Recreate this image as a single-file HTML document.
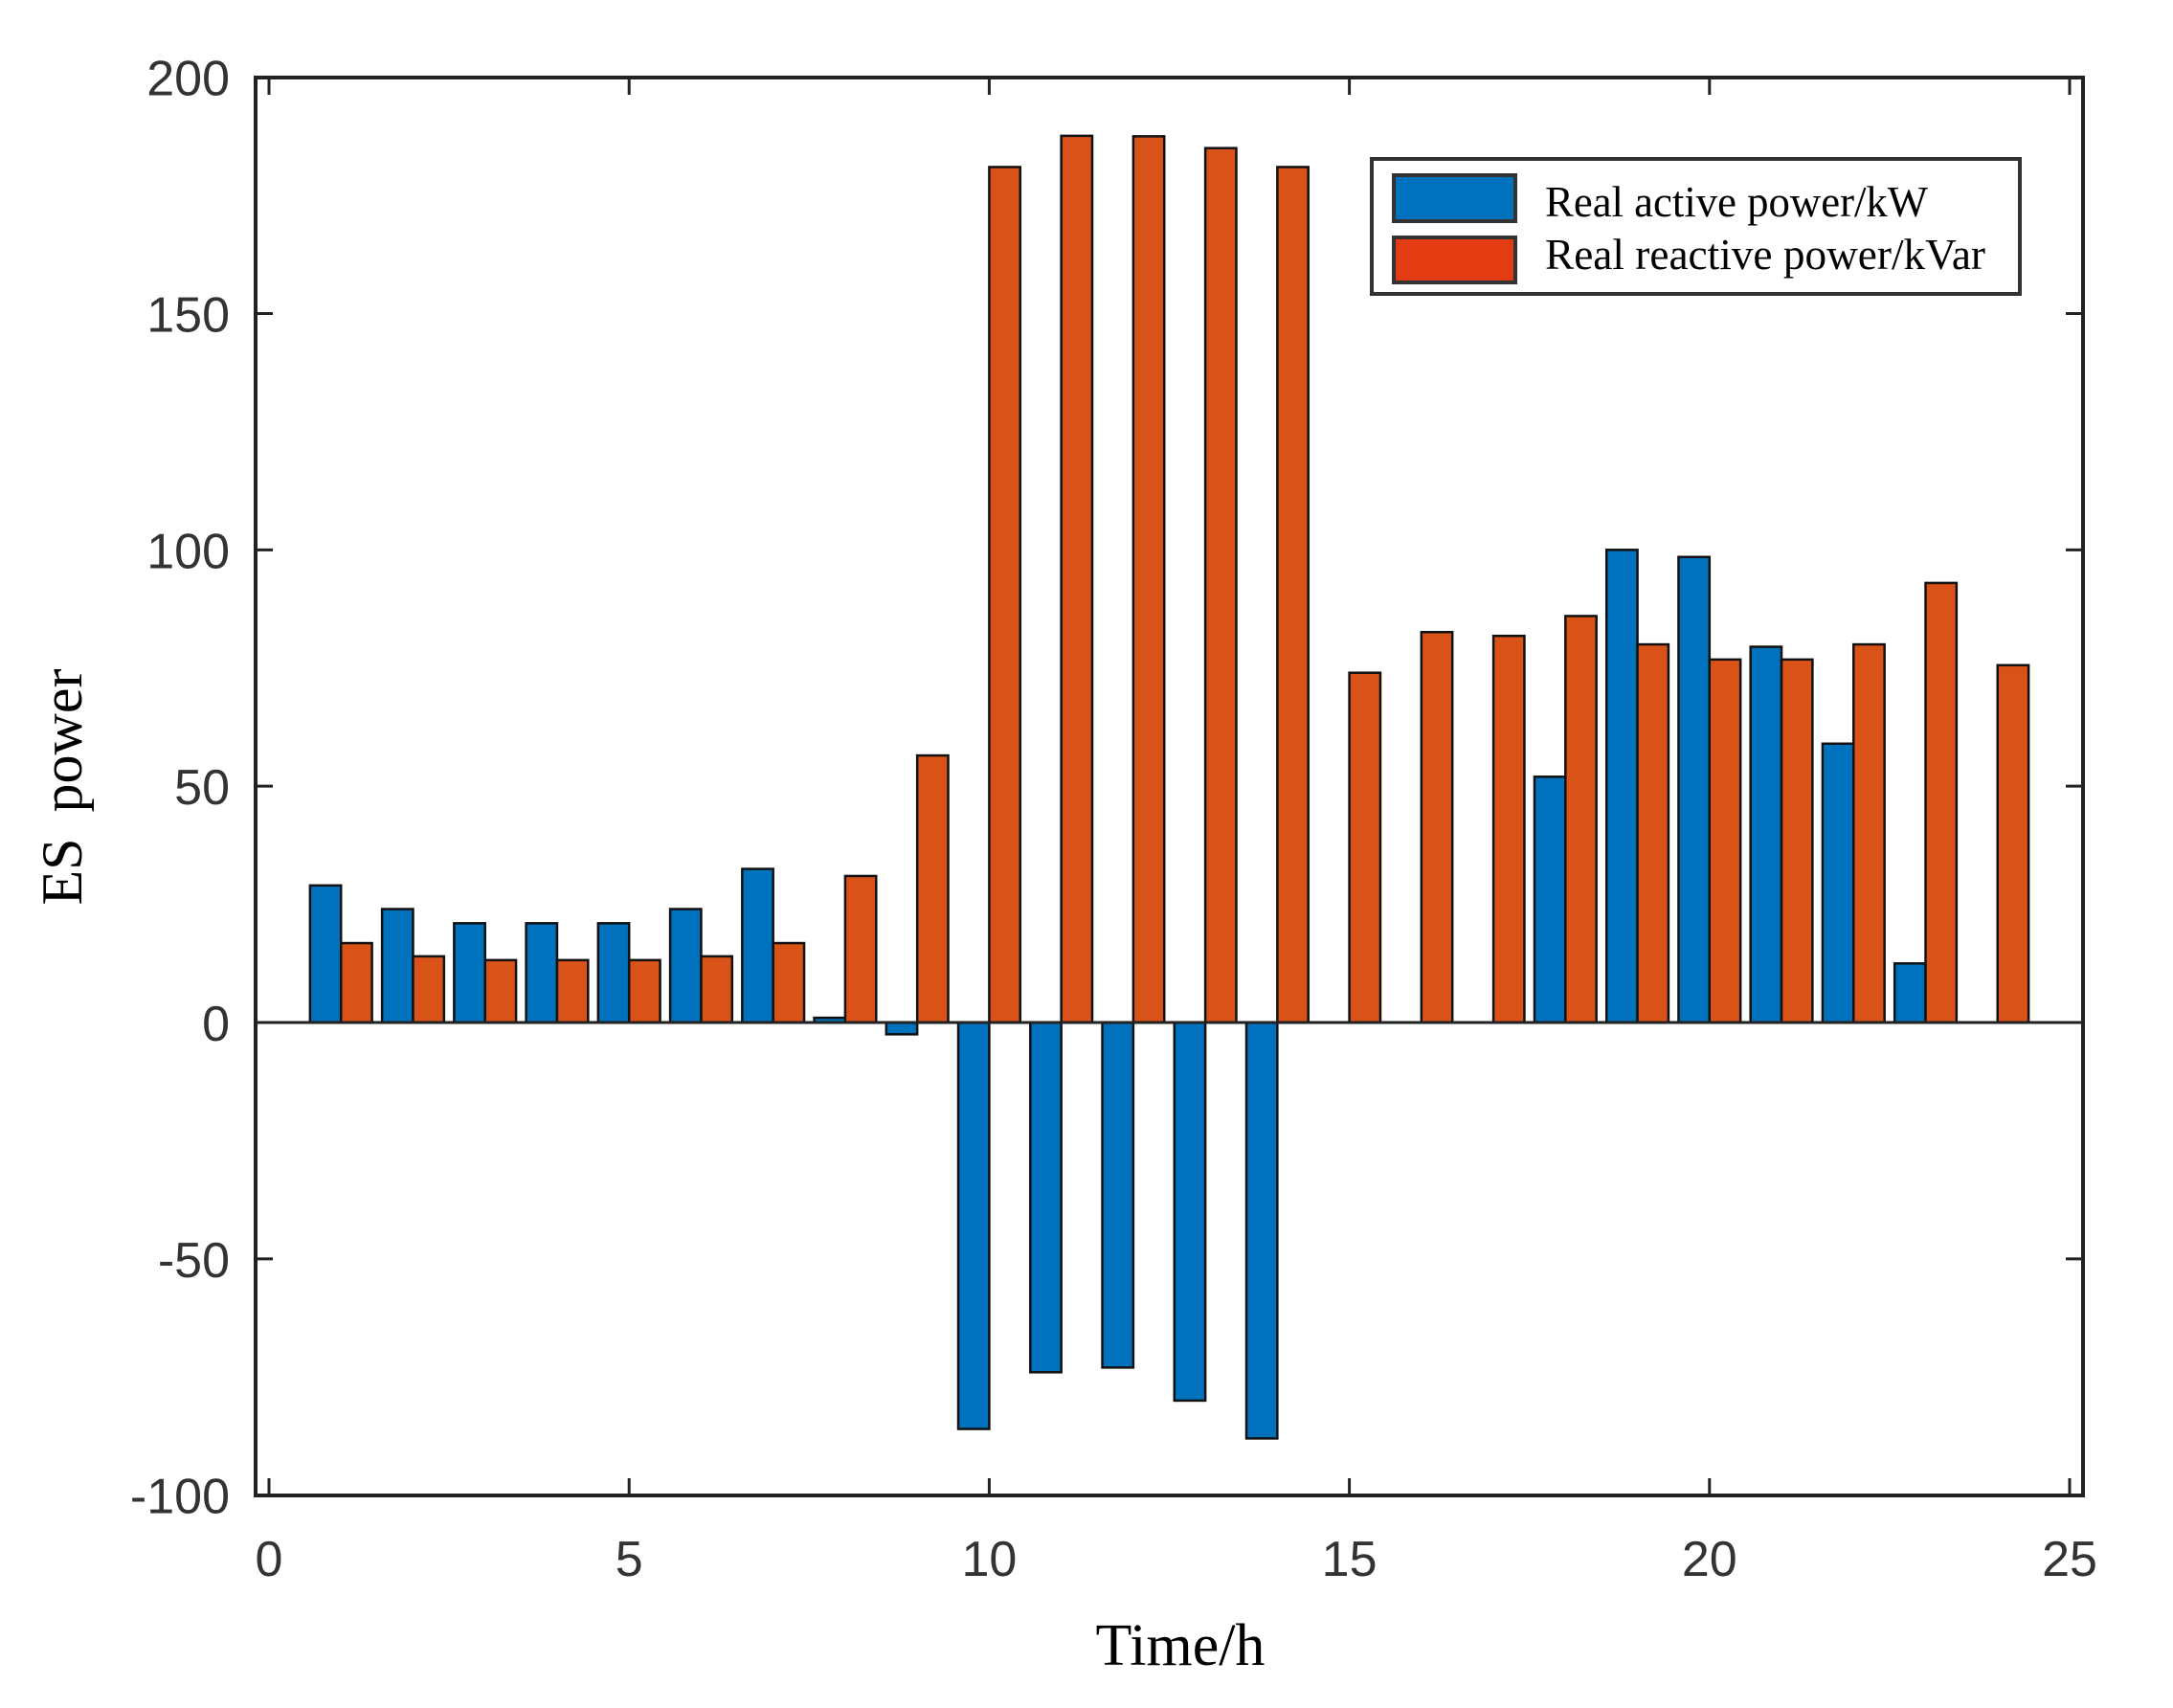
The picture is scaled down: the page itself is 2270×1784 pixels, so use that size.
<!DOCTYPE html>
<html><head><meta charset="utf-8"><style>
html,body{margin:0;padding:0;background:#fff;}
svg{display:block;}
</style></head><body>
<svg id="chart" width="2270" height="1784" viewBox="0 0 2270 1784" xmlns="http://www.w3.org/2000/svg">
<rect x="0" y="0" width="2270" height="1784" fill="#fff"/>
<g id="bars"></g>
<g id="axes"></g>
<text x="1233" y="1739" font-family="Liberation Serif, serif" font-size="62" text-anchor="middle" fill="#000">Time/h</text>
<text transform="translate(85,822) rotate(-90)" font-family="Liberation Serif, serif" font-size="60" text-anchor="middle" fill="#000" word-spacing="12">ES power</text>
<g>
<rect x="1433" y="166" width="677" height="141" fill="#fff" stroke="#333" stroke-width="4"/>
<rect x="1456" y="183" width="127" height="48" fill="#0072BD" stroke="#333" stroke-width="4"/>
<rect x="1456" y="248" width="127" height="47" fill="#E43C12" stroke="#333" stroke-width="4"/>
<text x="1614" y="226" font-family="Liberation Serif, serif" font-size="46" textLength="400" lengthAdjust="spacingAndGlyphs" fill="#000">Real active power/kW</text>
<text x="1614" y="281" font-family="Liberation Serif, serif" font-size="46" textLength="460" lengthAdjust="spacingAndGlyphs" fill="#000">Real reactive power/kVar</text>
</g>
</svg>
<script>
const hours = [1,2,3,4,5,6,7,8,9,10,11,12,13,14,15,16,17,18,19,20,21,22,23,24];
const activePower = [29,24,21,21,21,24,32.5,1,-2.5,-86,-74,-73,-80,-88,0,0,0,52,100,98.5,79.5,59,12.5,0];
const reactivePower = [16.8,14,13.2,13.2,13.2,14,16.8,31,56.5,181,187.6,187.5,185,181,74,82.6,81.8,86,80,76.8,76.8,80,93,75.6];
const xTicks = [0,5,10,15,20,25];
const yTicks = [-100,-50,0,50,100,150,200];

const NS = 'http://www.w3.org/2000/svg';
const X0 = 281, XPU = (2162-281)/25;
const Y0 = 1068, YPU = (1562-81)/300;
const xs = v => X0 + v*XPU;
const ys = v => Y0 - v*YPU;
const L = 267, R = 2176, T = 81, B = 1562;
const bw = 0.43*XPU, off = 0.215*XPU;

function mk(tag, attrs, parent){
  const e = document.createElementNS(NS, tag);
  for (const k in attrs) e.setAttribute(k, attrs[k]);
  parent.appendChild(e);
  return e;
}
const bars = document.getElementById('bars');
const axes = document.getElementById('axes');

function drawBar(h, v, dx, fill, name){
  if (v === 0) return;
  const y1 = ys(Math.max(v,0)), y2 = ys(Math.min(v,0));
  const r = mk('rect', {x: xs(h)+dx-bw/2, y: y1, width: bw, height: Math.max(y2-y1,0.5), fill: fill, stroke: '#111', 'stroke-width': 2.5}, bars);
  
  
}
hours.forEach((h,i) => {
  drawBar(h, activePower[i], -off, '#0072BD', 'bar-active-h' + h);
  drawBar(h, reactivePower[i], off, '#D95319', 'bar-reactive-h' + h);
});

const zl = mk('line', {x1: L, x2: R, y1: ys(0), y2: ys(0), stroke: '#222', 'stroke-width': 3}, axes);



const fr = mk('rect', {x: L, y: T, width: R-L, height: B-T, fill: 'none', stroke: '#222', 'stroke-width': 4}, axes);



xTicks.forEach(t => {
  const x = xs(t);
  mk('line', {x1: x, x2: x, y1: B, y2: B-18, stroke: '#222', 'stroke-width': 3}, axes);
  mk('line', {x1: x, x2: x, y1: T, y2: T+18, stroke: '#222', 'stroke-width': 3}, axes);
  const tx = mk('text', {x: x, y: 1646, 'font-family': 'Liberation Sans, sans-serif', 'font-size': 52, 'text-anchor': 'middle', fill: '#333'}, axes);
  tx.textContent = t;
  
  
});
yTicks.forEach(t => {
  const y = ys(t);
  mk('line', {x1: L, x2: L+18, y1: y, y2: y, stroke: '#222', 'stroke-width': 3}, axes);
  mk('line', {x1: R, x2: R-18, y1: y, y2: y, stroke: '#222', 'stroke-width': 3}, axes);
  const ty = mk('text', {x: 240, y: y+19, 'font-family': 'Liberation Sans, sans-serif', 'font-size': 52, 'text-anchor': 'end', fill: '#333'}, axes);
  ty.textContent = t;
  
  
});
</script>
</body></html>
